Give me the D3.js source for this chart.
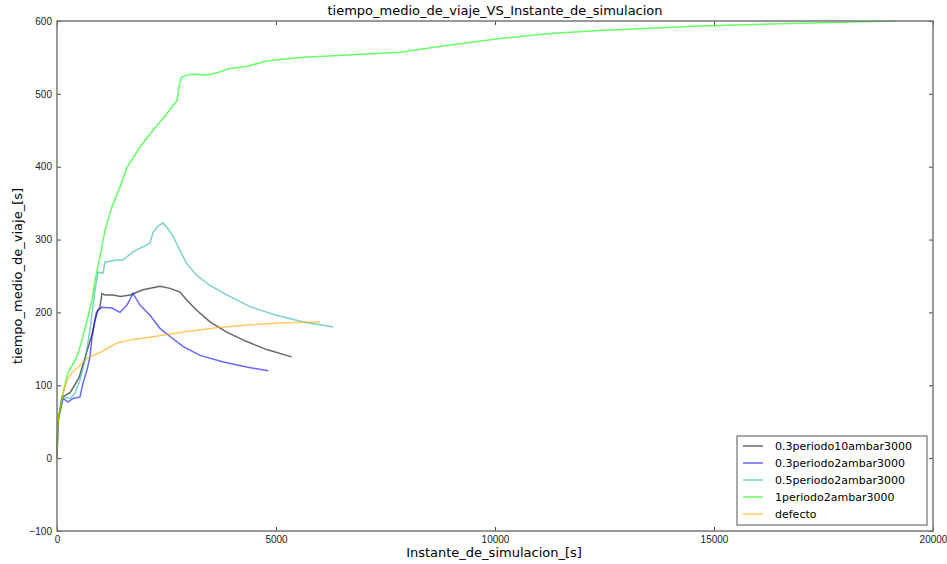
<!DOCTYPE html>
<html lang="es">
<head>
<meta charset="UTF-8">
<title>tiempo_medio_de_viaje_VS_Instante_de_simulacion</title>
<script src="https://d3js.org/d3.v7.min.js"></script>
<style>
    body { margin: 0; background: #fff; }
    svg { font-family: "DejaVu Sans", sans-serif; }
    .axis path.domain { display: none; }
    .axis line { stroke: #444; }
    .axis text { fill: #222; font-size: 10px; }
</style>
</head>
<body>
<svg width="947" height="564"></svg>
<script>
// [x (s), tiempo medio (s)]
var black = [[0,0],[20,50],[115,84],[300,90],[500,110],[650,140],[800,170],[900,200],[980,207],[1027,226],[1100,224],[1278,224],[1450,222],[1667,224],[1963,231],[2352,236],[2580,233],[2808,228],[2961,217],[3189,203],[3493,187],[3874,173],[4331,160],[4788,149],[5358,139]];
var blue = [[0,0],[20,50],[137,82],[251,77],[365,82],[525,84],[594,103],[685,121],[753,139],[799,166],[868,189],[936,203],[1027,207],[1255,206],[1438,200],[1598,210],[1735,226],[1895,210],[2123,196],[2352,178],[2580,167],[2884,153],[3265,141],[3797,132],[4331,125],[4824,120]];
var teal = [[0,0],[20,50],[137,84],[297,82],[411,89],[525,107],[639,134],[753,176],[868,231],[936,255],[1050,254],[1096,269],[1370,272],[1507,272],[1735,283],[2123,295],[2192,310],[2283,317],[2413,323],[2504,317],[2656,304],[2808,285],[2961,267],[3189,251],[3493,237],[3874,224],[4406,208],[5015,196],[5623,187],[6308,180]];
var green = [[0,0],[20,50],[115,84],[250,117],[455,139],[570,162],[685,189],[800,217],[868,244],[980,276],[1096,313],[1255,345],[1438,372],[1598,399],[1895,427],[2192,450],[2511,473],[2740,491],[2785,509],[2831,522],[2968,526],[3105,527],[3425,526],[3721,530],[3881,534],[4338,538],[4794,545],[5548,550],[7831,557],[8972,567],[10114,576],[11255,583],[12397,587],[14680,593],[16963,597],[19154,600]];
var orange = [[0,0],[20,50],[115,84],[228,107],[342,117],[480,125],[685,137],[980,145],[1370,158],[1735,163],[2123,166],[2884,173],[3646,179],[4406,183],[5167,186],[6004,187]];

var seriesNames = ["0.3periodo10ambar3000", "0.3periodo2ambar3000", "0.5periodo2ambar3000", "1periodo2ambar3000", "defecto"];
var seriesData = [black, blue, teal, green, orange];
var seriesColors = ["#000000", "#0000ff", "#20b2aa", "#00ff00", "#ffa500"];

var xTicks = [0, 5000, 10000, 15000, 20000];
var yTicks = [-100, 0, 100, 200, 300, 400, 500, 600];

var svg = d3.select("svg");
var mLeft = 57, mRight = 933, mTop = 21, mBottom = 531;

var xScale = d3.scaleLinear().domain([0, 20000]).range([mLeft, mRight]);
var yScale = d3.scaleLinear().domain([-100, 600]).range([mBottom, mTop]);

// ejes, ticks hacia dentro
svg.append("g").attr("class", "axis")
    .attr("transform", "translate(0," + mBottom + ")")
    .call(d3.axisBottom(xScale).tickValues(xTicks).tickFormat(d3.format("d")).tickSizeInner(-4).tickSizeOuter(0).tickPadding(5));
svg.append("g").attr("class", "axis")
    .attr("transform", "translate(0," + mTop + ")")
    .call(d3.axisTop(xScale).tickValues(xTicks).tickSizeInner(-4).tickSizeOuter(0).tickFormat(""));
svg.append("g").attr("class", "axis")
    .attr("transform", "translate(" + mLeft + ",0)")
    .call(d3.axisLeft(yScale).tickValues(yTicks).tickFormat(d3.format("d")).tickSizeInner(-4).tickSizeOuter(0).tickPadding(5));
svg.append("g").attr("class", "axis")
    .attr("transform", "translate(" + mRight + ",0)")
    .call(d3.axisRight(yScale).tickValues(yTicks).tickSizeInner(-4).tickSizeOuter(0).tickFormat(""));

var line = d3.line()
    .x(function (d) { return xScale(d[0]) })
    .y(function (d) { return yScale(d[1]) });

svg.append("g").selectAll("path")
    .data(seriesData)
    .enter()
    .append("path")
    .attr("d", line)
    .attr("fill", "none")
    .attr("stroke", function (d, i) { return seriesColors[i] })
    .attr("stroke-opacity", 0.6)
    .attr("stroke-width", 1.5);

// marco
svg.append("rect")
    .attr("x", mLeft).attr("y", mTop)
    .attr("width", mRight - mLeft).attr("height", mBottom - mTop)
    .attr("fill", "none").attr("stroke", "#777").attr("stroke-width", 1.5);

svg.append("text")
    .attr("x", (mLeft + mRight) / 2).attr("y", 15)
    .attr("text-anchor", "middle").attr("font-size", 13)
    .text("tiempo_medio_de_viaje_VS_Instante_de_simulacion");

svg.append("text")
    .attr("x", (mLeft + mRight) / 2 - 1).attr("y", 557)
    .attr("text-anchor", "middle").attr("font-size", 13)
    .text("Instante_de_simulacion_[s]");

svg.append("text")
    .attr("transform", "translate(22," + ((mTop + mBottom) / 2) + ") rotate(-90)")
    .attr("text-anchor", "middle").attr("font-size", 13)
    .text("tiempo_medio_de_viaje_[s]");

// leyenda
var legend = svg.append("g").attr("transform", "translate(737,436)");
legend.append("rect")
    .attr("width", 190).attr("height", 89)
    .attr("fill", "#fff").attr("stroke", "#555").attr("stroke-width", 1);
var item = legend.selectAll("g.item")
    .data(seriesNames)
    .enter()
    .append("g")
    .attr("class", "item")
    .attr("transform", function (d, i) { return "translate(0," + (10 + i * 17) + ")" });
item.append("line")
    .attr("x1", 6).attr("x2", 26)
    .attr("stroke", function (d, i) { return seriesColors[i] })
    .attr("stroke-opacity", 0.6).attr("stroke-width", 1.5);
item.append("text")
    .attr("x", 38).attr("y", 4)
    .attr("font-size", 11)
    .text(function (d) { return d });
</script>
</body>
</html>
